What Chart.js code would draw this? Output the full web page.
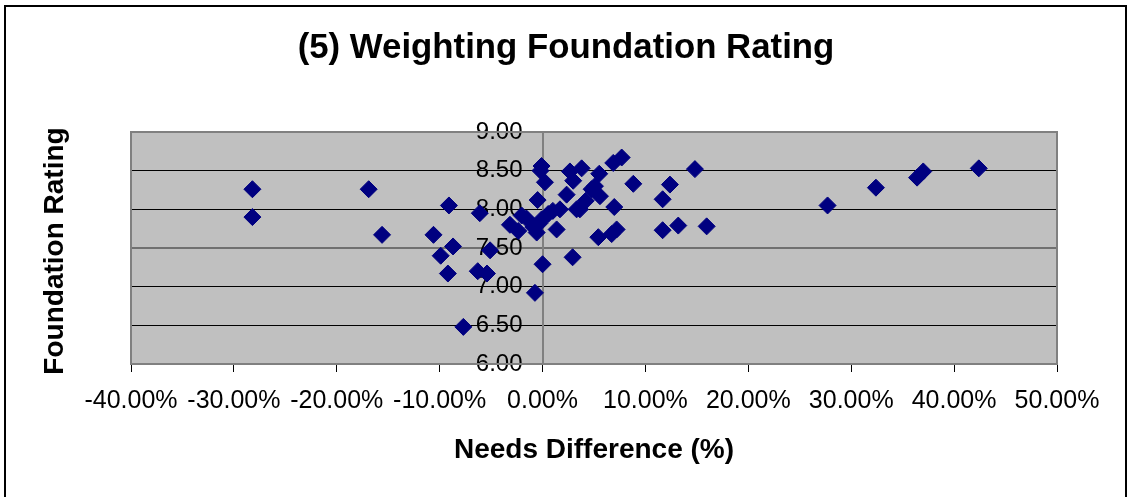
<!DOCTYPE html>
<html>
<head>
<meta charset="utf-8">
<title>(5) Weighting Foundation Rating</title>
<script src="https://cdn.jsdelivr.net/npm/chart.js@4/dist/chart.umd.min.js"></script>
<style>
  html, body { margin: 0; padding: 0; background: #fff; }
  #wrap { width: 1130px; height: 497px; }
</style>
</head>
<body>
<div id="wrap"><canvas id="myChart" width="1130" height="497"></canvas></div>
<script>
// needs difference in %, foundation rating
var needsDiff = [
  -28.2, -28.2, -16.9, -15.6, -10.6, -9.9, -9.1, -8.7, -9.2, -7.7,
  -6.3, -6.1, -5.4, -5.1, -0.74, 0.0, -0.1, -0.2, 0.23, -0.48,
  -3.17, -2.36, -2.03, -1.55, -0.9, -0.57, -0.3, -0.09, 0.55, 1.0,
  1.37, 1.69, 2.34, 2.66, 2.98, 2.92, 3.31, 3.8, 3.63, 4.2,
  4.77, 5.09, 5.58, 5.51, 6.87, 7.69, 8.82, 6.97, 5.42, 6.72,
  7.2, 14.81, 12.38, 11.67, 11.67, 13.19, 15.95, 27.7, 32.4, 36.4,
  37.0, 42.4
];
var foundationRating = [
  8.26, 7.90, 8.26, 7.67, 7.67, 7.40, 8.05, 7.52, 7.17, 6.48,
  7.20, 7.95, 7.17, 7.47, 6.92, 7.29, 8.56, 8.50, 8.35, 8.12,
  7.80, 7.72, 7.92, 7.88, 7.77, 7.70, 7.82, 7.87, 7.94, 7.98,
  7.74, 8.00, 8.19, 8.49, 8.37, 7.38, 8.00, 8.53, 8.00, 8.11,
  8.26, 8.30, 8.17, 8.46, 8.60, 8.67, 8.33, 8.03, 7.64, 7.68,
  7.74, 8.52, 8.32, 8.13, 7.73, 7.79, 7.78, 8.05, 8.28, 8.41,
  8.49, 8.53
];
var xTicks = { min: -40, max: 50, step: 10 };
var yTicks = { min: 6, max: 9, step: 0.5 };

var chartTitle = '(5) Weighting Foundation Rating';
var xTitle = 'Needs Difference (%)';
var yTitle = 'Foundation Rating';

var fam = '"Liberation Sans", Arial, sans-serif';

var points = [];
for (var i = 0; i < needsDiff.length; i++) {
  points.push({ x: needsDiff[i], y: foundationRating[i] });
}

var excelFrame = {
  id: 'excelFrame',
  beforeDraw: function(chart) {
    var ctx = chart.ctx, a = chart.chartArea;
    ctx.save();
    ctx.fillStyle = '#ffffff';
    ctx.fillRect(0, 0, chart.width, chart.height);
    ctx.fillStyle = '#c0c0c0';
    ctx.fillRect(a.left, a.top, a.right - a.left, a.bottom - a.top);
    ctx.restore();
  },
  beforeDatasetsDraw: function(chart) {
    var ctx = chart.ctx, a = chart.chartArea;
    ctx.save();
    ctx.strokeStyle = '#808080';
    ctx.lineWidth = 2;
    ctx.strokeRect(a.left, a.top, a.right - a.left, a.bottom - a.top);
    ctx.restore();
  },
  afterDraw: function(chart) {
    var ctx = chart.ctx;
    ctx.save();
    // outer frame
    ctx.strokeStyle = '#000';
    ctx.lineWidth = 2;
    ctx.strokeRect(5, 6, 1121, 500);
    ctx.fillStyle = '#000';
    ctx.textAlign = 'center';
    ctx.textBaseline = 'alphabetic';
    ctx.font = 'bold 34.8px ' + fam;
    ctx.fillText(chartTitle, 566, 58);
    ctx.font = 'bold 28px ' + fam;
    ctx.fillText(xTitle, 594, 458);
    ctx.translate(63, 251);
    ctx.rotate(-Math.PI / 2);
    ctx.fillText(yTitle, 0, 0);
    ctx.restore();
  }
};

var ctx = document.getElementById('myChart').getContext('2d');
var myChart = new Chart(ctx, {
  type: 'scatter',
  data: {
    datasets: [{
      label: 'Foundation Rating',
      data: points,
      pointStyle: 'rectRot',
      pointRadius: 8.5,
      pointHoverRadius: 8.5,
      backgroundColor: '#000080',
      borderColor: '#000080',
      borderWidth: 1
    }]
  },
  options: {
    responsive: false,
    animation: false,
    events: [],
    layout: { padding: { left: 131, right: 73, top: 132, bottom: 67 } },
    plugins: {
      legend: { display: false },
      title: { display: false },
      tooltip: { enabled: false }
    },
    scales: {
      x: {
        type: 'linear',
        position: 'bottom',
        min: xTicks.min,
        max: xTicks.max,
        grid: { drawOnChartArea: false, drawTicks: true, tickLength: 8, color: '#000', lineWidth: 1 },
        border: { display: false },
        ticks: {
          stepSize: xTicks.step,
          padding: 14,
          color: '#000',
          font: { family: fam, size: 25 },
          maxRotation: 0,
          autoSkip: false,
          callback: function(v) { return v.toFixed(2) + '%'; }
        }
      },
      y: {
        type: 'linear',
        position: { x: 0 },
        min: yTicks.min,
        max: yTicks.max,
        grid: {
          drawOnChartArea: true,
          drawTicks: true,
          tickLength: 8,
          color: function(c) { return c.tick && c.tick.value === 7.5 ? '#707070' : '#000'; },
          lineWidth: function(c) { return c.tick && c.tick.value === 7.5 ? 2 : 1; }
        },
        border: { display: true, color: '#808080', width: 2 },
        ticks: {
          stepSize: yTicks.step,
          padding: 13,
          color: '#000',
          font: { family: fam, size: 24 },
          // centred axis: labels sit right on the axis, so pad them with spaces
          callback: function(v) { return v.toFixed(2) + '   '; }
        }
      }
    }
  },
  plugins: [excelFrame]
});
</script>
</body>
</html>
